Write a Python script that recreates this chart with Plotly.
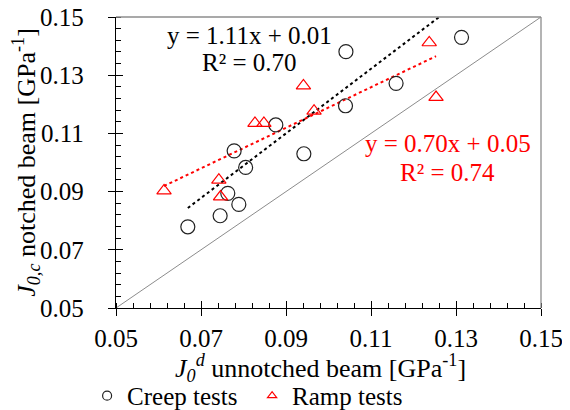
import numpy as np
import plotly.graph_objects as go

# ---- data ----
creep_x = [0.1313, 0.1041, 0.1159, 0.1040, 0.0876, 0.0778, 0.0942, 0.0805, 0.0763, 0.0789, 0.0745, 0.0669]
creep_y = [0.1430, 0.1381, 0.1272, 0.1195, 0.1129, 0.1040, 0.1030, 0.0983, 0.0894, 0.0856, 0.0817, 0.0779]
ramp_x = [0.1237, 0.0941, 0.0966, 0.0827, 0.0848, 0.1253, 0.0613, 0.0742, 0.0746]
ramp_y = [0.1412, 0.1264, 0.1177, 0.1135, 0.1135, 0.1224, 0.0903, 0.0940, 0.0882]
creep_trend = [1.11, 0.0101]   # slope, intercept (read from the drawn trendline)
ramp_trend = [0.697, 0.0492]
unity_line = [0.05, 0.15]
tick_vals = [0.05, 0.07, 0.09, 0.11, 0.13, 0.15]
tick_text = ["0.05", "0.07", "0.09", "0.11", "0.13", "0.15"]
creep_label = ["y = 1.11x + 0.01", "R² = 0.70"]
ramp_label = ["y = 0.70x + 0.05", "R² = 0.74"]
x_title = "<i>J</i><sub><i>0</i></sub><sup><i>d</i></sup> unnotched beam [GPa<sup>-1</sup>]"
y_title = "<i>J</i><sub><i>0,c</i></sub> notched beam [GPa<sup>-1</sup>]"

FONT = "Liberation Serif"
TICK_SIZE = 25
TEXT_SIZE = 26

def trend_line(xs, coef):
    xx = np.array([min(xs), max(xs)])
    return xx, coef[0] * xx + coef[1]

cx, cy = trend_line(creep_x, creep_trend)
rx, ry = trend_line(ramp_x, ramp_trend)

fig = go.Figure()
fig.add_trace(go.Scatter(x=unity_line, y=unity_line, mode="lines",
                         line=dict(color="#8c8c8c", width=1), showlegend=False, hoverinfo="skip"))
fig.add_trace(go.Scatter(x=cx, y=cy, mode="lines",
                         line=dict(color="black", width=2, dash="dot"), showlegend=False))
fig.add_trace(go.Scatter(x=rx, y=ry, mode="lines",
                         line=dict(color="red", width=2, dash="dot"), showlegend=False))
fig.add_trace(go.Scatter(x=creep_x, y=creep_y, mode="markers", name="Creep tests", showlegend=False,
                         marker=dict(symbol="circle-open", size=14, color="#222222",
                                     line=dict(width=1.2, color="#222222"))))
fig.add_trace(go.Scatter(x=ramp_x, y=ramp_y, mode="markers", name="Ramp tests", showlegend=False,
                         marker=dict(symbol="triangle-up-open", size=12.5, color="red",
                                     line=dict(width=1.2, color="red"))))
# legend entries (smaller symbols, as in the reference legend)
fig.add_trace(go.Scatter(x=[None], y=[None], mode="markers", name="Creep tests",
                         marker=dict(symbol="circle-open", size=9, color="#222222",
                                     line=dict(width=1.2, color="#222222"))))
fig.add_trace(go.Scatter(x=[None], y=[None], mode="markers", name="Ramp tests",
                         marker=dict(symbol="triangle-up-open", size=8, color="red",
                                     line=dict(width=1.2, color="red"))))
# invisible trace to activate overlay axes (inner half of major ticks)
fig.add_trace(go.Scatter(x=[None], y=[None], xaxis="x2", yaxis="y2", showlegend=False))

axis_common = dict(range=[0.05, 0.15], tickvals=tick_vals, ticktext=tick_text,
                   showgrid=False, zeroline=False, showline=True, linecolor="black",
                   linewidth=1.3, ticks="outside", ticklen=7, tickwidth=1.3, tickcolor="black",
                   tickfont=dict(family=FONT, size=TICK_SIZE, color="black"), automargin=False,
                   ticklabeloverflow="allow",
                   minor=dict(tickvals=[round(0.05 + 0.004 * i, 3) for i in range(26)],
                              ticks="inside", ticklen=5, tickwidth=1, tickcolor="black"))

# the page body adds an 8px offset, so the figure is 562x402
fig.update_layout(
    width=562, height=402,
    margin=dict(l=108, r=29, t=9, b=102, autoexpand=False),
    plot_bgcolor="white", paper_bgcolor="white",
    font=dict(family=FONT, size=TEXT_SIZE, color="black"),
    xaxis=dict(**axis_common, ticklabelstandoff=1),
    yaxis=dict(**axis_common, ticklabelstandoff=19,
               title=dict(text=y_title, font=dict(family=FONT, size=TEXT_SIZE), standoff=6)),
    xaxis2=dict(overlaying="x", anchor="y", side="bottom", range=[0.05, 0.15], tickvals=tick_vals,
                showticklabels=False, ticks="inside", ticklen=7, tickwidth=1.3, tickcolor="black",
                showgrid=False, zeroline=False, showline=False),
    yaxis2=dict(overlaying="y", anchor="x", side="left", range=[0.05, 0.15], tickvals=tick_vals,
                showticklabels=False, ticks="inside", ticklen=7, tickwidth=1.3, tickcolor="black",
                showgrid=False, zeroline=False, showline=False),
    legend=dict(orientation="h", x=-0.068, xanchor="left", y=-0.223, yanchor="top",
                font=dict(family=FONT, size=TICK_SIZE), bgcolor="rgba(0,0,0,0)",
                itemwidth=30, tracegroupgap=0, entrywidth=120, entrywidthmode="pixels"),
    showlegend=True,
)

# x-axis title
fig.add_annotation(x=0.48, y=-0.206, xref="paper", yref="paper", text=x_title, showarrow=False,
                   xanchor="center", yanchor="middle", font=dict(family=FONT, size=TEXT_SIZE))

# gray frame on top and right
fig.add_shape(type="line", xref="paper", yref="paper", x0=0, x1=1, y0=1, y1=1,
              line=dict(color="#8c8c8c", width=1.3))
fig.add_shape(type="line", xref="paper", yref="paper", x0=1, x1=1, y0=0, y1=1,
              line=dict(color="#8c8c8c", width=1.3))

# equation annotations
fig.add_annotation(x=0.0815, y=0.1438, xref="x", yref="y", text=creep_label[0], showarrow=False,
                   font=dict(family=FONT, size=TICK_SIZE, color="black"))
fig.add_annotation(x=0.0815, y=0.1342, xref="x", yref="y", text=creep_label[1], showarrow=False,
                   font=dict(family=FONT, size=TICK_SIZE, color="black"))
fig.add_annotation(x=0.1281, y=0.1064, xref="x", yref="y", text=ramp_label[0], showarrow=False,
                   font=dict(family=FONT, size=TICK_SIZE, color="red"))
fig.add_annotation(x=0.1281, y=0.0964, xref="x", yref="y", text=ramp_label[1], showarrow=False,
                   font=dict(family=FONT, size=TICK_SIZE, color="red"))

fig.write_html("out.html")
